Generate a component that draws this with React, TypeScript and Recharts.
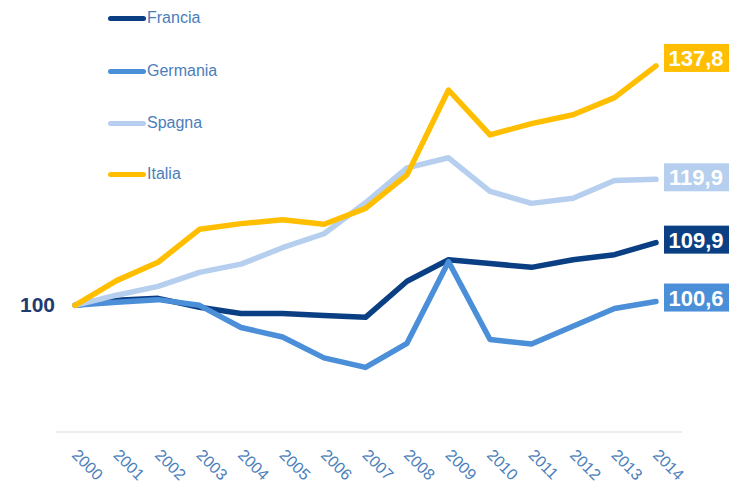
import React from "react";
import { LineChart, Line, XAxis, YAxis, LabelList } from "recharts";

const years = ["2000", "2001", "2002", "2003", "2004", "2005", "2006", "2007", "2008", "2009", "2010", "2011", "2012", "2013", "2014"];
const francia = [100, 100.8, 101.1, 99.7, 98.7, 98.7, 98.4, 98.1, 103.8, 107.2, 106.6, 106.0, 107.2, 108.0, 109.9];
const germania = [100, 100.5, 100.9, 100.0, 96.5, 95.0, 91.7, 90.2, 94.0, 106.9, 94.6, 93.9, 96.7, 99.5, 100.6];
const spagna = [100, 101.6, 103.0, 105.2, 106.5, 109.1, 111.3, 116.2, 121.7, 123.3, 118.0, 116.1, 116.9, 119.7, 119.9];
const italia = [100, 103.9, 106.8, 112.0, 112.9, 113.5, 112.8, 115.3, 120.6, 134.0, 126.9, 128.7, 130.1, 132.8, 137.8];
const endLabels = { francia: "109,9", germania: "100,6", spagna: "119,9", italia: "137,8" };

const data = years.map((y, i) => ({
  year: y,
  francia: francia[i],
  germania: germania[i],
  spagna: spagna[i],
  italia: italia[i],
}));

const series = [
  { key: "francia", name: "Francia", color: "#0b3f84", dy: -3 },
  { key: "germania", name: "Germania", color: "#4a8fd8", dy: -4 },
  { key: "spagna", name: "Spagna", color: "#b6cfee", dy: -2 },
  { key: "italia", name: "Italia", color: "#ffbf00", dy: -8 },
] as const;

const font = "Arial, 'Liberation Sans', sans-serif";

const YearTick = (props: any) => {
  const { x, y, payload } = props;
  return (
    <text
      x={x - 4}
      y={y + 24}
      transform={`rotate(45, ${x - 4}, ${y + 24})`}
      textAnchor="start"
      fill="#4a7ebb"
      fontSize={16}
      fontFamily={font}
    >
      {payload.value}
    </text>
  );
};

const HundredTick = (props: any) => {
  const { y, payload } = props;
  return (
    <text x={55} y={y + 7} textAnchor="end" fill="#1f3c6e" fontSize={21} fontWeight="bold" fontFamily={font}>
      {payload.value}
    </text>
  );
};

const makeEndLabel = (text: string, color: string, dy: number) => (props: any) => {
  const { x, y, index } = props;
  if (index !== years.length - 1) return null;
  const bx = x + 8;
  const by = y + dy;
  return (
    <g>
      <rect x={bx} y={by - 14} width={65} height={28} fill={color} />
      <text x={bx + 32} y={by + 8} textAnchor="middle" fill="#ffffff" fontSize={22} fontWeight="bold" fontFamily={font}>
        {text}
      </text>
    </g>
  );
};

const LegendBox = () => (
  <div style={{ position: "absolute", left: 0, top: 0, width: 250, height: 190, pointerEvents: "none" }}>
    {series.map((s, i) => (
      <div key={s.key} style={{ position: "absolute", left: 108, top: [18, 71, 123, 174][i] - 9, display: "flex", alignItems: "center", height: 18 }}>
        <div style={{ width: 38, height: 5, borderRadius: 3, background: s.color }} />
        <span style={{ fontFamily: font, fontSize: 16, color: "#4a7ebb", marginLeft: 1 }}>{s.name}</span>
      </div>
    ))}
  </div>
);

export default function App() {
  return (
    <div style={{ position: "absolute", left: 0, top: 0, width: 731, height: 482, background: "#fff" }}>
      <LineChart width={731} height={482} data={data} margin={{ top: 52, right: 49, bottom: 0, left: 0 }}>
        <XAxis
          dataKey="year"
          height={50}
          padding={{ left: 19, right: 26 }}
          axisLine={{ stroke: "#d9d9d9", strokeWidth: 1 }}
          tickLine={false}
          tickSize={0}
          tickMargin={0}
          interval={0}
          tick={<YearTick />}
        />
        <YAxis
          width={56}
          domain={[80, 140]}
          ticks={[100]}
          axisLine={false}
          tickLine={false}
          tick={<HundredTick />}
        />
        {series.map((s) => (
          <Line
            key={s.key}
            type="linear"
            dataKey={s.key}
            name={s.name}
            stroke={s.color}
            strokeWidth={5.5}
            strokeLinecap="round"
            strokeLinejoin="round"
            dot={false}
            activeDot={false}
            isAnimationActive={false}
          >
            <LabelList dataKey={s.key} content={makeEndLabel(endLabels[s.key], s.color, s.dy)} />
          </Line>
        ))}
      </LineChart>
      <LegendBox />
    </div>
  );
}
